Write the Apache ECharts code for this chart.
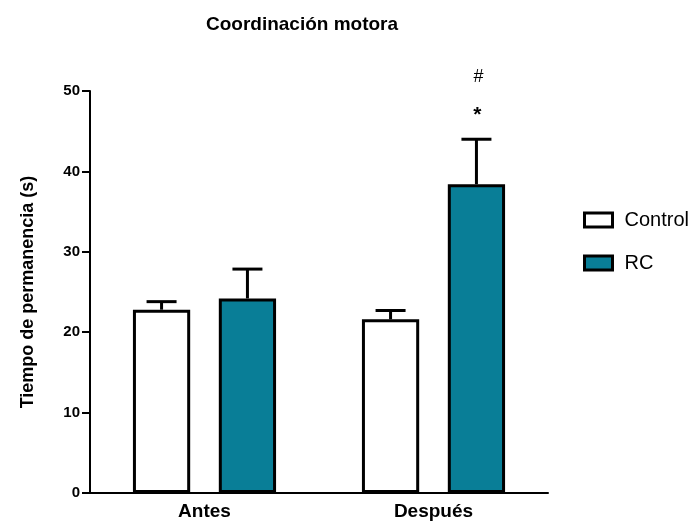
<!DOCTYPE html>
<html><head><meta charset="utf-8">
<script src="https://cdn.jsdelivr.net/npm/echarts@6/dist/echarts.min.js"></script>
<style>html,body{margin:0;padding:0;background:#fff}#c{width:692px;height:525px}</style>
</head><body><div id="c"></div>
<script>
const categories = ['Antes', 'Después'];
const seriesNames = ['Control', 'RC'];
const controlMean = [22.8, 21.6];
const controlErr = [23.8, 22.7];
const rcMean = [24.2, 38.4];
const rcErr = [27.85, 44.0];
const rcStar = ['', '*'];
const rcHash = ['', '#'];
const yTicks = [0, 10, 20, 30, 40, 50];

const FONT = 'Liberation Sans, Arial, sans-serif';
const TEAL = '#097E97';
const BAND_OFFSET = 0.1875;

function errSeries(tops, means, dir) {
  return {
    type: 'custom',
    silent: true,
    z: 1,
    data: tops.map((t, i) => [i, means[i], t]),
    renderItem: function (params, api) {
      const band = api.size([1, 0])[0];
      const base = api.coord([api.value(0), api.value(1)]);
      const top = api.coord([api.value(0), api.value(2)]);
      const x = base[0] + dir * BAND_OFFSET * band;
      const capHalf = 15;
      return {
        type: 'group',
        children: [
          { type: 'line', shape: { x1: x, y1: base[1], x2: x, y2: top[1] }, style: { stroke: '#000', lineWidth: 3 } },
          { type: 'line', shape: { x1: x - capHalf, y1: top[1], x2: x + capHalf, y2: top[1] }, style: { stroke: '#000', lineWidth: 3 } }
        ]
      };
    }
  };
}

const chart = echarts.init(document.getElementById('c'));
chart.setOption({
  backgroundColor: '#fff',
  animation: false,
  title: {
    text: 'Coordinación motora',
    left: 297, top: 10, textAlign: 'center',
    textStyle: { fontFamily: FONT, fontWeight: 'bold', fontSize: 19, color: '#000' }
  },
  legend: {
    data: seriesNames,
    orient: 'vertical',
    left: 583, top: 210,
    padding: 0,
    itemWidth: 28, itemHeight: 14, itemGap: 23,
    icon: 'rect',
    itemStyle: { borderWidth: 3, borderColor: '#000' },
    textStyle: { fontFamily: FONT, fontSize: 20, lineHeight: 20, color: '#000', padding: [0, 0, 0, 7] }
  },
  grid: { left: 90, right: 144, top: 91, bottom: 32 },
  xAxis: {
    type: 'category',
    data: categories,
    axisLine: { lineStyle: { color: '#000', width: 2 } },
    axisTick: { show: false },
    axisLabel: { fontFamily: FONT, fontWeight: 'bold', fontSize: 19, color: '#000', margin: 9 }
  },
  yAxis: {
    type: 'value',
    min: 0, max: 50, interval: 10,
    name: 'Tiempo de permanencia (s)',
    nameLocation: 'middle',
    nameGap: 53,
    nameTextStyle: { fontFamily: FONT, fontWeight: 'bold', fontSize: 18, color: '#000' },
    splitLine: { show: false },
    axisLine: { show: true, lineStyle: { color: '#000', width: 2 } },
    axisTick: { show: true, length: 8, lineStyle: { color: '#000', width: 2 } },
    axisLabel: { fontFamily: FONT, fontWeight: 'bold', fontSize: 15, color: '#000', margin: 10,
      formatter: v => yTicks.includes(v) ? String(v) : '' }
  },
  series: [
    {
      name: 'Control', type: 'bar', data: controlMean, z: 2,
      barCategoryGap: '37.5%', barGap: '50%',
      itemStyle: { color: '#fff', borderColor: '#000', borderWidth: 3 }
    },
    {
      name: 'RC', type: 'bar', data: rcMean, z: 2,
      barCategoryGap: '37.5%', barGap: '50%',
      itemStyle: { color: TEAL, borderColor: '#000', borderWidth: 3 }
    },
    errSeries(controlErr, controlMean, -1),
    errSeries(rcErr, rcMean, 1),
    {
      type: 'custom', silent: true, z: 3,
      data: rcErr.map((t, i) => [i, t]),
      renderItem: function (params, api) {
        const i = params.dataIndex;
        if (!rcStar[i] && !rcHash[i]) return null;
        const band = api.size([1, 0])[0];
        const p = api.coord([api.value(0), api.value(1)]);
        const x = p[0] + BAND_OFFSET * band;
        return {
          type: 'group',
          children: [
            { type: 'text', style: { text: rcStar[i], x: x + 1, y: p[1] - 24, textAlign: 'center', textVerticalAlign: 'middle', font: 'bold 21px ' + FONT, fill: '#000' } },
            { type: 'text', style: { text: rcHash[i], x: x + 2, y: p[1] - 62, textAlign: 'center', textVerticalAlign: 'middle', font: '18px ' + FONT, fill: '#000' } }
          ]
        };
      }
    }
  ]
});
</script>
</body></html>
